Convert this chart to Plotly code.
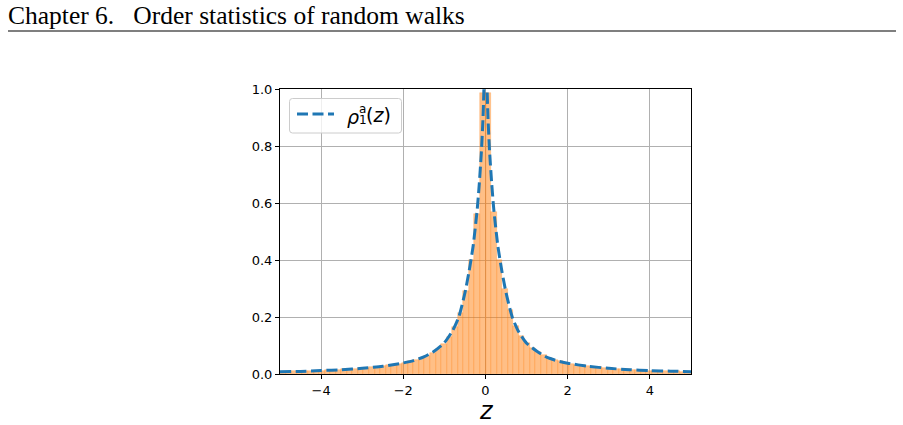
import numpy as np
import plotly.graph_objects as go

# ---------------- data ----------------
bin_width = 0.135
hist_heights_left = [0.008, 0.008, 0.009, 0.009, 0.010, 0.011, 0.011, 0.012, 0.013, 0.014,
                     0.015, 0.016, 0.017, 0.018, 0.020, 0.021, 0.023, 0.025, 0.027, 0.030,
                     0.033, 0.036, 0.040, 0.045, 0.050, 0.057, 0.064, 0.074, 0.087, 0.105,
                     0.130, 0.165, 0.215, 0.29, 0.40, 0.56, 0.985]
hist_heights_right = [0.985, 0.57, 0.40, 0.30, 0.225, 0.17, 0.135, 0.108, 0.090, 0.077,
                      0.066, 0.057, 0.050, 0.045, 0.040, 0.036, 0.033, 0.030, 0.027, 0.025,
                      0.023, 0.021, 0.020, 0.018, 0.017, 0.016, 0.015, 0.014, 0.013, 0.012,
                      0.011, 0.011, 0.010, 0.009, 0.009, 0.008, 0.008]

rho_z = [-5.0, -4.5, -4.0, -3.5, -3.0, -2.5, -2.0, -1.75, -1.5, -1.25, -1.0, -0.8, -0.65,
         -0.5, -0.4, -0.3, -0.2, -0.15, -0.1, -0.06, -0.03, 0.0, 0.03, 0.06, 0.1, 0.15,
         0.2, 0.3, 0.4, 0.5, 0.65, 0.8, 1.0, 1.25, 1.5, 1.75, 2.0, 2.5, 3.0, 3.5, 4.0, 4.5, 5.0]
rho_vals = [0.008, 0.009, 0.012, 0.015, 0.020, 0.027, 0.039, 0.047, 0.060, 0.080, 0.110,
            0.152, 0.200, 0.285, 0.360, 0.450, 0.580, 0.670, 0.780, 0.900, 1.05, 1.30,
            1.05, 0.90, 0.78, 0.67, 0.58, 0.45, 0.36, 0.285, 0.200, 0.150, 0.108, 0.080,
            0.058, 0.046, 0.038, 0.027, 0.020, 0.015, 0.012, 0.010, 0.008]

x_ticks = [-4, -2, 0, 2, 4]
x_tick_labels = ["\u22124", "\u22122", "0", "2", "4"]
y_ticks = [0.0, 0.2, 0.4, 0.6, 0.8, 1.0]
y_tick_labels = ["0.0", "0.2", "0.4", "0.6", "0.8", "1.0"]

header_text = "Chapter 6.\u2002 Order statistics of random walks"
legend_label_parts = ["\u03c1", "a", "1", "(z)"]

# ---------------- layout geometry (pixels) ----------------
W, H = 903, 425
L, R, T, B = 280, 212, 89, 51
PW, PH = W - L - R, H - T - B


def px(xp):
    return (xp - L) / PW


def py(yp):
    return (H - B - yp) / PH


hist_heights = hist_heights_left + hist_heights_right
n_bins = len(hist_heights)
edges = (np.arange(n_bins + 1) - n_bins / 2) * bin_width
centers = 0.5 * (edges[:-1] + edges[1:])

fig = go.Figure()
fig.add_trace(go.Bar(
    x=centers, y=hist_heights, width=bin_width,
    marker=dict(color="rgba(255,127,14,0.5)",
                line=dict(color="rgba(255,127,14,0.4)", width=0.6)),
    showlegend=False, hoverinfo="skip"))
fig.add_trace(go.Scatter(
    x=rho_z, y=rho_vals, mode="lines",
    line=dict(color="#1f77b4", width=3, dash="11px,4.5px", shape="spline", smoothing=0.6),
    showlegend=False))

axis_common = dict(showline=True, mirror=True, linecolor="black", linewidth=1,
                   ticks="outside", ticklen=4, tickwidth=1, tickcolor="black",
                   showgrid=True, gridcolor="#b0b0b0", gridwidth=0.8, zeroline=False,
                   tickfont=dict(family="DejaVu Sans", size=13, color="black"))

fig.update_layout(
    width=W, height=H, margin=dict(l=L, r=R, t=T, b=B),
    paper_bgcolor="white", plot_bgcolor="white", bargap=0,
    xaxis=dict(range=[-5, 5], tickvals=x_ticks, ticktext=x_tick_labels, **axis_common),
    yaxis=dict(range=[0, 1], tickvals=y_ticks, ticktext=y_tick_labels, **axis_common),
)

# x-axis label
fig.add_annotation(x=px(486), y=py(411), xref="paper", yref="paper", text="<i>z</i>",
                   showarrow=False, xanchor="center", yanchor="middle",
                   font=dict(family="DejaVu Sans", size=24, color="black"))

# header
fig.add_annotation(x=px(6), y=py(15), xref="paper", yref="paper", text=header_text,
                   showarrow=False, xanchor="left", yanchor="middle",
                   font=dict(family="Liberation Serif", size=25.5, color="black"))
fig.add_shape(type="line", xref="paper", yref="paper", x0=px(8), x1=px(896),
              y0=py(31), y1=py(31), line=dict(color="#555555", width=1.3))

# legend (box, sample, label)
x0, x1, y0, y1, r = 289.5, 401.5, 98.5, 133.0, 3.0
rx, ry = r / PW, r / PH
path = (f"M {px(x0)+rx},{py(y0)} L {px(x1)-rx},{py(y0)} Q {px(x1)},{py(y0)} {px(x1)},{py(y0)-ry} "
        f"L {px(x1)},{py(y1)+ry} Q {px(x1)},{py(y1)} {px(x1)-rx},{py(y1)} "
        f"L {px(x0)+rx},{py(y1)} Q {px(x0)},{py(y1)} {px(x0)},{py(y1)+ry} "
        f"L {px(x0)},{py(y0)-ry} Q {px(x0)},{py(y0)} {px(x0)+rx},{py(y0)} Z")
fig.add_shape(type="path", xref="paper", yref="paper", path=path,
              line=dict(color="#cccccc", width=1), fillcolor="rgba(255,255,255,0.8)")
fig.add_shape(type="line", xref="paper", yref="paper", x0=px(297), x1=px(334),
              y0=py(114), y1=py(114), line=dict(color="#1f77b4", width=3, dash="11px,4.5px"))
lab_font = dict(family="DejaVu Sans", size=19, color="black")
scr_font = dict(family="DejaVu Sans", size=12, color="black")
fig.add_annotation(x=px(346), y=py(117), xref="paper", yref="paper",
                   text=f"<i>{legend_label_parts[0]}</i>", showarrow=False,
                   xanchor="left", yanchor="middle", font=lab_font, borderpad=0)
fig.add_annotation(x=px(357.5), y=py(109), xref="paper", yref="paper",
                   text=legend_label_parts[1], showarrow=False, xanchor="left",
                   yanchor="middle", font=scr_font, borderpad=0)
fig.add_annotation(x=px(357.5), y=py(120), xref="paper", yref="paper",
                   text=legend_label_parts[2], showarrow=False, xanchor="left",
                   yanchor="middle", font=scr_font, borderpad=0)
fig.add_annotation(x=px(365), y=py(115), xref="paper", yref="paper",
                   text="(<i>z</i>)", showarrow=False, xanchor="left",
                   yanchor="middle", font=lab_font, borderpad=0)

fig.write_html("out.html")
